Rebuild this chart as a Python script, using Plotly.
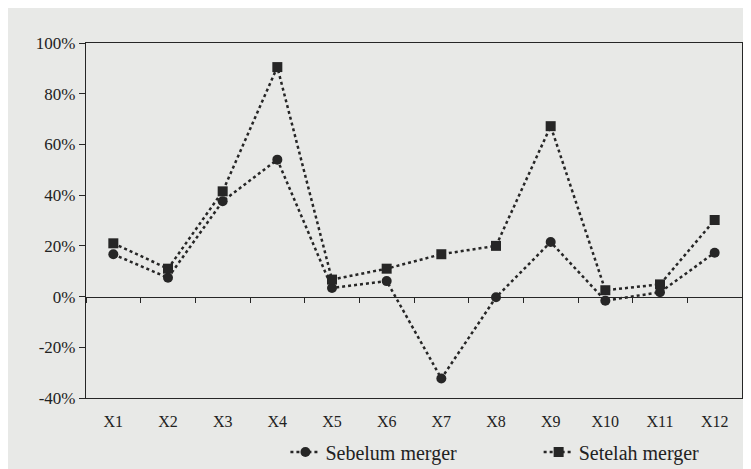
import plotly.graph_objects as go

categories = ["X1", "X2", "X3", "X4", "X5", "X6", "X7", "X8", "X9", "X10", "X11", "X12"]
sebelum = [16.7, 7.4, 37.6, 54.0, 3.4, 6.1, -32.3, -0.3, 21.5, -1.6, 1.7, 17.3]
setelah = [21.0, 11.0, 41.5, 90.5, 6.7, 11.0, 16.7, 20.0, 67.2, 2.5, 4.8, 30.2]
y_ticks = [-40, -20, 0, 20, 40, 60, 80, 100]
y_tick_labels = ["-40%", "-20%", "0%", "20%", "40%", "60%", "80%", "100%"]

ink = "#262626"
bg = "#e8e9e7"
font_family = "Liberation Serif, Times New Roman, serif"

fig = go.Figure()
fig.add_trace(go.Scatter(
    x=categories, y=sebelum, name="Sebelum merger", mode="lines+markers",
    line=dict(color=ink, width=2.5, dash="dot"),
    marker=dict(symbol="circle", size=10, color=ink),
    legend="legend",
))
fig.add_trace(go.Scatter(
    x=categories, y=setelah, name="Setelah merger", mode="lines+markers",
    line=dict(color=ink, width=2.5, dash="dot"),
    marker=dict(symbol="square", size=10, color=ink),
    legend="legend2",
))
# invisible helper trace so the zero-crossing category axis is drawn
fig.add_trace(go.Scatter(
    x=categories, y=[0] * len(categories), xaxis="x2", mode="markers",
    marker=dict(opacity=0), showlegend=False, hoverinfo="skip",
))

ymin, ymax = -40, 100
zero_pos = (0 - ymin) / (ymax - ymin)

legend_common = dict(orientation="h", y=-0.152, yanchor="middle", xanchor="left",
                     bgcolor="rgba(0,0,0,0)", borderwidth=0,
                     font=dict(family=font_family, size=20, color="#222"))

fig.update_layout(
    width=743, height=461,
    margin=dict(l=78, r=9, t=35, b=71, autoexpand=False),
    paper_bgcolor=bg, plot_bgcolor=bg,
    font=dict(family=font_family, size=16, color="#222"),
    showlegend=True,
    legend=dict(x=0.304, **legend_common),
    legend2=dict(x=0.690, **legend_common),
    xaxis=dict(
        type="category", showline=True, linecolor=ink, linewidth=1.2, mirror=True,
        ticks="", showgrid=False, zeroline=False, ticklabelstandoff=9,
        range=[-0.5, 11.5], tickfont=dict(family=font_family, size=16), automargin=False,
    ),
    xaxis2=dict(
        type="category", overlaying="x", matches="x", anchor="free", position=zero_pos,
        showline=True, linecolor=ink, linewidth=1.2, ticks="outside", ticklen=5,
        tickcolor=ink, tickson="boundaries", showticklabels=False, showgrid=False,
        zeroline=False, automargin=False,
    ),
    yaxis=dict(
        range=[ymin, ymax], tickvals=y_ticks, ticktext=y_tick_labels, showline=True,
        linecolor=ink, linewidth=1.2, mirror=True, ticks="outside", ticklen=6,
        tickcolor=ink, showgrid=False, zeroline=False,
        tickfont=dict(family=font_family, size=17), automargin=False,
    ),
)

fig.write_html("out.html")
